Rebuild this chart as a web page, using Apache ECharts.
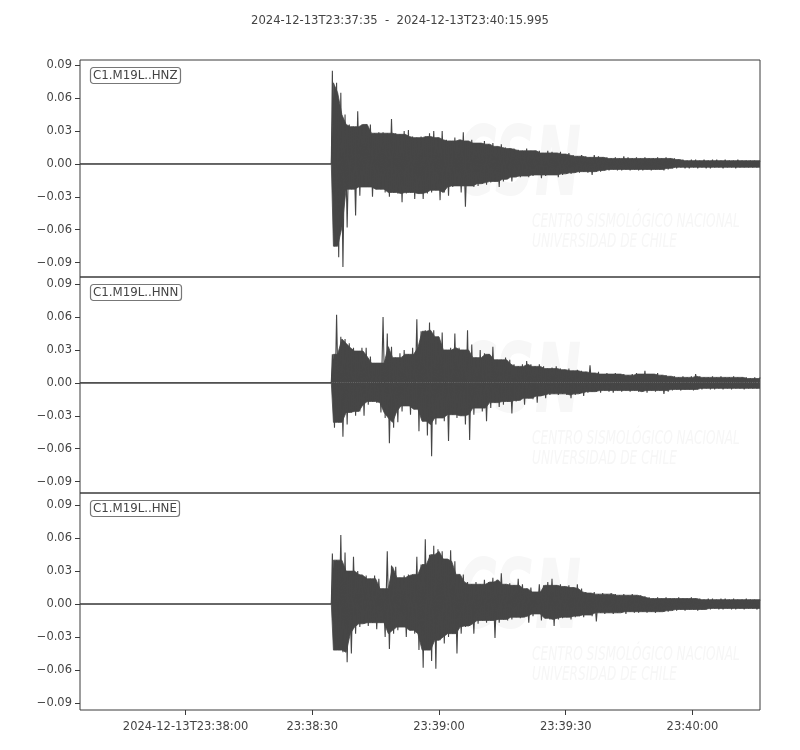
<!DOCTYPE html>
<html>
<head>
<meta charset="utf-8">
<script src="https://cdn.jsdelivr.net/npm/echarts@6/dist/echarts.min.js"></script>
<style>
html,body{margin:0;padding:0;background:#ffffff;}
#chart{width:800px;height:750px;}
</style>
</head>
<body>
<div id="chart"></div>
<script>
// ---------------- data ----------------
const traceStart = '2024-12-13T23:37:35';
const traceEnd = '2024-12-13T23:40:15.995';
const durationSec = 160.995;              // seconds from traceStart to traceEnd
const channelNames = ['C1.M19L..HNZ', 'C1.M19L..HNN', 'C1.M19L..HNE'];
const preEventLevel = 0;                  // quiet trace before the P arrival
const onsetSec = 59.5;                    // first envelope bin starts here (s after traceStart)
const binSec = 1;                         // envelope bin width (s)

// envelope: max / min of each 1-s bin after the onset
const hnzHigh = [
  0.085, 0.074, 0.065, 0.045, 0.036, 0.034, 0.048, 0.036, 0.036, 0.036,
  0.028, 0.029, 0.029, 0.028, 0.041, 0.028, 0.027, 0.030, 0.031, 0.025,
  0.024, 0.025, 0.025, 0.028, 0.030, 0.024, 0.030, 0.022, 0.021, 0.024,
  0.022, 0.029, 0.021, 0.022, 0.019, 0.019, 0.021, 0.018, 0.019, 0.016,
  0.018, 0.015, 0.014, 0.014, 0.013, 0.012, 0.014, 0.012, 0.012,
  0.012, 0.010, 0.012, 0.011, 0.010, 0.011, 0.009, 0.010, 0.008, 0.007,
  0.008, 0.007, 0.006, 0.008, 0.007, 0.006, 0.006, 0.005, 0.006, 0.005,
  0.007, 0.006, 0.005, 0.006, 0.005, 0.006, 0.005, 0.005, 0.006, 0.005,
  0.006, 0.005, 0.005, 0.004, 0.004, 0.003, 0.004, 0.004, 0.003, 0.004,
  0.003, 0.004, 0.004, 0.003, 0.004, 0.003, 0.003, 0.004, 0.003, 0.003,
  0.003, 0.003
];
const hnzLow = [
  -0.075, -0.085, -0.094, -0.058, -0.023, -0.047, -0.029, -0.021, -0.021, -0.030,
  -0.023, -0.023, -0.026, -0.030, -0.026, -0.027, -0.035, -0.027, -0.026, -0.032,
  -0.027, -0.032, -0.027, -0.026, -0.024, -0.033, -0.026, -0.029, -0.021, -0.020,
  -0.026, -0.039, -0.020, -0.021, -0.020, -0.018, -0.019, -0.017, -0.016, -0.021,
  -0.016, -0.014, -0.016, -0.012, -0.012, -0.011, -0.012, -0.011, -0.010,
  -0.013, -0.011, -0.010, -0.010, -0.012, -0.010, -0.009, -0.009, -0.008, -0.008,
  -0.007, -0.008, -0.010, -0.007, -0.007, -0.006, -0.006, -0.005, -0.006, -0.006,
  -0.005, -0.006, -0.005, -0.006, -0.006, -0.005, -0.006, -0.005, -0.005, -0.006,
  -0.005, -0.004, -0.004, -0.003, -0.004, -0.004, -0.003, -0.004, -0.003, -0.004,
  -0.004, -0.003, -0.003, -0.004, -0.003, -0.003, -0.004, -0.003, -0.003, -0.003,
  -0.003, -0.003
];
const hnnHigh = [
  0.026, 0.062, 0.042, 0.040, 0.036, 0.032, 0.029, 0.032, 0.032, 0.024,
  0.018, 0.018, 0.060, 0.045, 0.033, 0.023, 0.027, 0.030, 0.026, 0.032,
  0.058, 0.047, 0.048, 0.055, 0.048, 0.042, 0.046, 0.030, 0.032, 0.045,
  0.032, 0.030, 0.048, 0.035, 0.023, 0.030, 0.027, 0.026, 0.033, 0.021,
  0.021, 0.023, 0.021, 0.017, 0.015, 0.017, 0.020, 0.017, 0.015,
  0.017, 0.015, 0.013, 0.014, 0.015, 0.013, 0.012, 0.013, 0.011, 0.012,
  0.011, 0.010, 0.016, 0.009, 0.010, 0.008, 0.009, 0.008, 0.009, 0.008,
  0.008, 0.007, 0.008, 0.009, 0.008, 0.011, 0.008, 0.008, 0.009, 0.007,
  0.007, 0.006, 0.006, 0.005, 0.006, 0.005, 0.006, 0.008, 0.006, 0.005,
  0.005, 0.006, 0.005, 0.006, 0.005, 0.005, 0.006, 0.005, 0.005, 0.005,
  0.004, 0.005
];
const hnnLow = [
  -0.041, -0.036, -0.049, -0.038, -0.027, -0.030, -0.026, -0.030, -0.020, -0.017,
  -0.018, -0.027, -0.032, -0.055, -0.041, -0.036, -0.026, -0.021, -0.029, -0.024,
  -0.044, -0.035, -0.048, -0.067, -0.038, -0.032, -0.035, -0.053, -0.029, -0.032,
  -0.030, -0.038, -0.052, -0.029, -0.023, -0.026, -0.035, -0.023, -0.018, -0.022,
  -0.020, -0.017, -0.028, -0.017, -0.016, -0.020, -0.014, -0.015, -0.018,
  -0.012, -0.014, -0.011, -0.010, -0.011, -0.010, -0.011, -0.014, -0.011, -0.010,
  -0.012, -0.009, -0.008, -0.008, -0.009, -0.007, -0.008, -0.009, -0.007, -0.008,
  -0.007, -0.008, -0.007, -0.008, -0.008, -0.009, -0.007, -0.008, -0.007, -0.010,
  -0.008, -0.007, -0.006, -0.007, -0.006, -0.006, -0.007, -0.006, -0.006, -0.005,
  -0.006, -0.006, -0.005, -0.006, -0.005, -0.006, -0.005, -0.005, -0.006, -0.005,
  -0.005, -0.005
];
const hneHigh = [
  0.046, 0.040, 0.063, 0.047, 0.030, 0.043, 0.030, 0.027, 0.026, 0.023,
  0.026, 0.023, 0.014, 0.048, 0.035, 0.034, 0.024, 0.026, 0.027, 0.027,
  0.043, 0.036, 0.059, 0.045, 0.053, 0.050, 0.048, 0.041, 0.049, 0.039,
  0.027, 0.027, 0.020, 0.018, 0.020, 0.018, 0.022, 0.020, 0.024, 0.022,
  0.028, 0.018, 0.019, 0.017, 0.023, 0.018, 0.014, 0.015, 0.011,
  0.018, 0.017, 0.020, 0.023, 0.017, 0.018, 0.016, 0.017, 0.015, 0.018,
  0.014, 0.011, 0.010, 0.011, 0.009, 0.010, 0.009, 0.010, 0.009, 0.008,
  0.009, 0.008, 0.009, 0.008, 0.008, 0.007, 0.006, 0.005, 0.006, 0.005,
  0.006, 0.005, 0.005, 0.006, 0.005, 0.005, 0.006, 0.005, 0.005, 0.004,
  0.005, 0.005, 0.004, 0.005, 0.005, 0.004, 0.005, 0.004, 0.004, 0.005,
  0.004, 0.004
];
const hneLow = [
  -0.042, -0.042, -0.044, -0.053, -0.045, -0.027, -0.021, -0.018, -0.020, -0.017,
  -0.023, -0.017, -0.030, -0.041, -0.027, -0.024, -0.021, -0.030, -0.024, -0.027,
  -0.042, -0.058, -0.042, -0.052, -0.059, -0.033, -0.036, -0.030, -0.027, -0.045,
  -0.027, -0.021, -0.020, -0.027, -0.018, -0.015, -0.017, -0.015, -0.031, -0.017,
  -0.014, -0.015, -0.014, -0.012, -0.013, -0.012, -0.017, -0.011, -0.009,
  -0.015, -0.013, -0.014, -0.020, -0.014, -0.013, -0.012, -0.014, -0.012, -0.011,
  -0.012, -0.010, -0.011, -0.016, -0.008, -0.009, -0.008, -0.009, -0.008, -0.008,
  -0.009, -0.007, -0.008, -0.008, -0.007, -0.008, -0.007, -0.008, -0.007, -0.007,
  -0.007, -0.006, -0.006, -0.005, -0.006, -0.005, -0.005, -0.006, -0.005, -0.005,
  -0.005, -0.004, -0.005, -0.005, -0.004, -0.005, -0.005, -0.004, -0.005, -0.004,
  -0.004, -0.005
];

// tick positions / labels
const xTickSecs = [25, 55, 85, 115, 145];
const xTickLabels = ['2024-12-13T23:38:00', '23:38:30', '23:39:00', '23:39:30', '23:40:00'];
const yTickValues = [-0.09, -0.06, -0.03, 0, 0.03, 0.06, 0.09];

// ---------------- build ----------------
// spiky trace: each bin goes to its max then its min
function buildTrace(high, low) {
  const pts = [[0, preEventLevel], [onsetSec, preEventLevel]];
  for (let k = 0; k < high.length; k++) {
    const t0 = onsetSec + k * binSec;
    pts.push([t0 + 0.25 * binSec, high[k]]);
    pts.push([t0 + 0.75 * binSec, low[k]]);
  }
  pts.push([durationSec, high[high.length - 1]]);
  return pts;
}
// dense body of the trace: the smallest excursion among a bin and its neighbours
function buildBody(env) {
  const pts = [[0, preEventLevel], [onsetSec, preEventLevel]];
  let last = 0;
  for (let k = 0; k < env.length; k++) {
    let m = Math.abs(env[k]);
    if (k > 0) m = Math.min(m, Math.abs(env[k - 1]));
    if (k < env.length - 1) m = Math.min(m, Math.abs(env[k + 1]));
    last = Math.sign(env[k]) * m;
    pts.push([onsetSec + (k + 0.5) * binSec, last]);
  }
  pts.push([durationSec, last]);
  return pts;
}
const highs = [hnzHigh, hnnHigh, hneHigh];
const lows = [hnzLow, hnnLow, hneLow];

const FONT = 'DejaVu Sans';
const TXT = '#444444';
const WAVE = '#464646';
const panelTops = [60, 277, 493];
const panelHeights = [217, 216, 217];
const yMins = [-0.1031, -0.1004, -0.0966];
const yMaxs = [0.0948, 0.0965, 0.1012];

function fmtY(v) {
  const s = Math.abs(v).toFixed(2);
  return (v < -1e-9 ? '\u2212' : '') + s;
}

const grids = [], xAxes = [], yAxes = [], series = [], titles = [], graphics = [];

titles.push({
  text: traceStart + '  -  ' + traceEnd,
  left: 'center', top: 15, padding: 0,
  textStyle: { fontFamily: FONT, fontSize: 11.6, fontWeight: 'normal', color: TXT }
});

for (let i = 0; i < 3; i++) {
  grids.push({
    left: 80, width: 680, top: panelTops[i], height: panelHeights[i],
    show: true, borderColor: '#3a3a3a', borderWidth: 1, backgroundColor: 'transparent'
  });
  const bottom = i === 2;
  xAxes.push({
    type: 'value', gridIndex: i, min: 0, max: durationSec, position: 'bottom',
    axisLine: { show: false, onZero: false },
    splitLine: { show: false },
    axisTick: { show: bottom, inside: false, length: 5, customValues: xTickSecs,
                lineStyle: { color: '#3a3a3a', width: 1 } },
    axisLabel: { show: bottom, customValues: xTickSecs, margin: 11,
                 fontFamily: FONT, fontSize: 11.5, color: TXT,
                 formatter: function (v) {
                   const idx = xTickSecs.findIndex(s => Math.abs(s - v) < 1e-6);
                   return idx >= 0 ? xTickLabels[idx] : '';
                 } }
  });
  yAxes.push({
    type: 'value', gridIndex: i, min: yMins[i], max: yMaxs[i],
    axisLine: { show: false, onZero: false },
    splitLine: { show: false },
    axisTick: { show: true, inside: false, length: 5, customValues: yTickValues,
                lineStyle: { color: '#3a3a3a', width: 1 } },
    axisLabel: { show: true, customValues: yTickValues, margin: 8,
                 fontFamily: FONT, fontSize: 11.5, color: TXT, formatter: fmtY }
  });
  // dense body (upper and lower), filled to zero
  [highs[i], lows[i]].forEach(function (env) {
    series.push({
      type: 'line', xAxisIndex: i, yAxisIndex: i, data: buildBody(env),
      showSymbol: false, symbol: 'none', sampling: null, animation: false,
      z: 3, lineStyle: { color: WAVE, width: 0.8 },
      areaStyle: { color: WAVE, opacity: 1, origin: 0 }
    });
  });
  // spiky trace
  series.push({
    type: 'line', xAxisIndex: i, yAxisIndex: i, data: buildTrace(highs[i], lows[i]),
    showSymbol: false, symbol: 'none', sampling: null, animation: false,
    z: 4, lineStyle: { color: WAVE, width: 1.1 }
  });
  titles.push({
    text: channelNames[i], left: 90, top: panelTops[i] + 7,
    padding: [3, 3, 2, 3], borderColor: '#777777', borderWidth: 1.2, borderRadius: 3,
    backgroundColor: '#ffffff',
    textStyle: { fontFamily: FONT, fontSize: 11.8, fontWeight: 'normal', color: TXT }
  });
  // faint watermark
  const wy = panelTops[i];
  graphics.push({
    type: 'text', x: 456, y: wy + 62, scaleX: 0.66, scaleY: 1.15, z: 0, silent: true,
    style: { text: 'CSN', fill: '#f7f7f7', verticalAlign: 'top',
             font: 'italic bold 84px "DejaVu Sans"' }
  });
  graphics.push({
    type: 'text', x: 532, y: wy + 153, scaleX: 0.64, z: 0, silent: true,
    style: { text: 'CENTRO SISMOLÓGICO NACIONAL', fill: '#f6f6f6', verticalAlign: 'top',
             font: 'italic 19px "DejaVu Sans"' }
  });
  graphics.push({
    type: 'text', x: 532, y: wy + 173, scaleX: 0.64, z: 0, silent: true,
    style: { text: 'UNIVERSIDAD DE CHILE', fill: '#f6f6f6', verticalAlign: 'top',
             font: 'italic 19px "DejaVu Sans"' }
  });
}

const chart = echarts.init(document.getElementById('chart'), null, { renderer: 'canvas' });
chart.setOption({
  backgroundColor: '#ffffff',
  animation: false,
  title: titles,
  grid: grids,
  xAxis: xAxes,
  yAxis: yAxes,
  series: series,
  graphic: graphics
});
</script>
</body>
</html>
